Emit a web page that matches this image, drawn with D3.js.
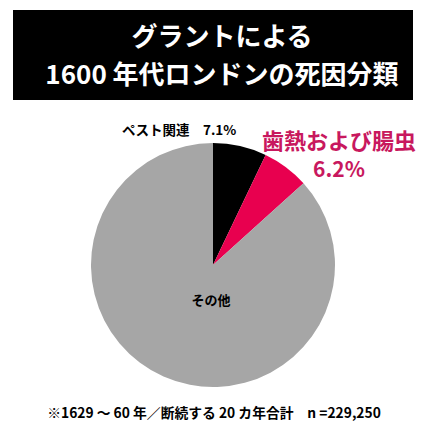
<!DOCTYPE html>
<html lang="ja">
<head>
<meta charset="UTF-8">
<title>グラントによる死因分類</title>
<script src="https://cdn.jsdelivr.net/npm/d3@7"></script>
<style>
    body { margin: 0; background: #fff; }
    svg { display: block; font-family: "Noto Sans CJK JP", "Noto Sans", sans-serif; font-weight: bold; }
</style>
</head>
<body>
<script>
    'use strict';

    // 死因の分類と割合(%)
    var categories = ['ペスト関連', '歯熱および腸虫', 'その他'];
    var shares = [7.1, 6.2, 86.7];
    var colors = ['#000000', '#e8004f', '#a6a6a6'];
    var titleLines = ['グラントによる', '1600 年代ロンドンの死因分類'];
    var note = '※1629 ～ 60 年／断続する 20 カ年合計　n =229,250';

    var w = 425, h = 425;
    var cx = 213, cy = 265, r = 122;

    var svg = d3.select('body').append('svg')
        .attr('width', w)
        .attr('height', h);

    // タイトル
    svg.append('rect')
        .attr('x', 13).attr('y', 10)
        .attr('width', 400).attr('height', 90)
        .attr('fill', '#000');

    svg.selectAll('text.title')
        .data(titleLines)
        .enter().append('text')
        .attr('class', 'title')
        .attr('x', 222)
        .attr('y', (d, i) => 46 + i * 38)
        .attr('text-anchor', 'middle')
        .attr('fill', '#fff')
        .attr('font-size', 26)
        .text(d => d);

    // 円グラフ
    var pie = d3.pie().sort(null).value(d => d);
    var arc = d3.arc().innerRadius(0).outerRadius(r);

    var g = svg.append('g')
        .attr('transform', 'translate(' + cx + ',' + cy + ')');

    g.selectAll('path')
        .data(pie(shares))
        .enter().append('path')
        .attr('d', arc)
        .attr('fill', (d, i) => colors[i]);

    // ラベル
    svg.append('text')
        .attr('x', 122).attr('y', 135)
        .attr('font-size', 13.5)
        .attr('fill', '#000')
        .text(categories[0] + '　' + shares[0].toFixed(1) + '%');

    svg.append('text')
        .attr('x', 339).attr('y', 149)
        .attr('text-anchor', 'middle')
        .attr('font-size', 22)
        .attr('fill', '#c8185e')
        .text(categories[1]);

    svg.append('text')
        .attr('x', 339).attr('y', 177)
        .attr('text-anchor', 'middle')
        .attr('font-size', 21)
        .attr('fill', '#c8185e')
        .text(shares[1].toFixed(1) + '%');

    svg.append('text')
        .attr('x', 211).attr('y', 305)
        .attr('text-anchor', 'middle')
        .attr('font-size', 13)
        .attr('fill', '#000')
        .text(categories[2]);

    // 注記
    svg.append('text')
        .attr('x', 214).attr('y', 418)
        .attr('text-anchor', 'middle')
        .attr('font-size', 13.8)
        .attr('fill', '#000')
        .text(note);
</script>
</body>
</html>
